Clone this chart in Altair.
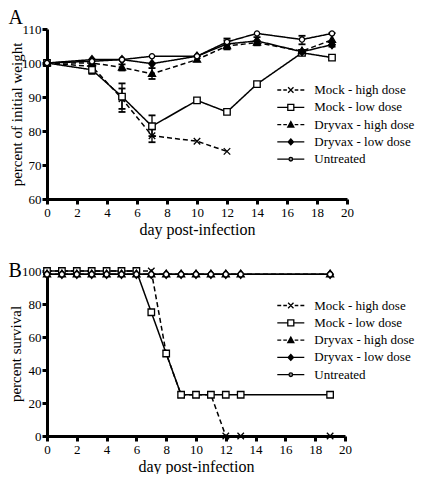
import altair as alt
import pandas as pd

series = ["Mock - high dose", "Mock - low dose", "Dryvax - high dose",
          "Dryvax - low dose", "Untreated"]

# ---- Panel A: weight ----
days_a = [0, 3, 5, 7, 10, 12, 14, 17, 19]
weight_mock_high = [100, 99, 89.5, 78.6, 77, 74]
weight_mock_low = [100, 98, 90.1, 81.4, 89, 85.6, 93.8, 103, 101.6]
weight_dry_high = [100, 100, 98.7, 96.8, 101, 105, 106, 103.5, 106.8]
weight_dry_low = [100, 101, 101, 99.8, 102, 105.6, 106.5, 103.3, 105.4]
weight_untreated = [100, 100.5, 101, 102, 102, 106.2, 108.7, 106.9, 108.7]

err_series = ["Mock - high dose", "Mock - high dose", "Mock - low dose",
              "Mock - low dose", "Mock - low dose", "Dryvax - high dose",
              "Dryvax - high dose", "Dryvax - high dose", "Dryvax - low dose",
              "Dryvax - low dose", "Dryvax - high dose", "Untreated"]
err_day = [5, 7, 3, 5, 7, 5, 7, 12, 12, 14, 19, 17]
err_low = [85.6, 76.7, 96.8, 86.5, 78.5, 97.8, 95.3, 104.0, 104.6, 105.2, 104.8, 105.5]
err_high = [92.5, 80.5, 99.2, 94.0, 84.6, 99.6, 98.5, 106.6, 107.2, 107.6, 108.8, 108.0]

# ---- Panel B: survival ----
days_b = [0, 1, 2, 3, 4, 5, 6, 7, 8, 9, 10, 11, 12, 13, 19]
surv_mock_high = [100, 100, 100, 100, 100, 100, 100, 100, 50, 25, 25, 25, 0, 0, 0]
surv_mock_low = [100, 100, 100, 100, 100, 100, 100, 75, 50, 25, 25, 25, 25, 25, 25]
surv_dry_high = [98, 98, 98, 98, 98, 98, 98, 98, 98, 98, 98, 98, 98, 98, 98]
surv_dry_low = [98, 98, 98, 98, 98, 98, 98, 98, 98, 98, 98, 98, 98, 98, 98]
surv_untreated = [98, 98, 98, 98, 98, 98, 98, 98, 98, 98, 98, 98, 98, 98, 98]

FONT = "Liberation Serif"

marker_paths = ["M-1,-1L1,1M-1,1L1,-1",
                "M-1,-1L1,-1L1,1L-1,1Z",
                "M0,-1.2L1.1,0.8L-1.1,0.8Z",
                "M0,-1.25L1,0L0,1.25L-1,0Z",
                "M-0.8,0A0.8,0.8 0 1,0 0.8,0A0.8,0.8 0 1,0 -0.8,0Z"]
marker_fills = ["white", "white", "black", "black", "white"]
dash_patterns = [[5, 3], [1, 0], [5, 3], [1, 0], [1, 0]]
CAP_PATH = "M-1,0L1,0"

DASH_L = "M-4.5,0L-3.2,0M-2.5,0L-1.3,0"
DASH_R = "M1.3,0L2.5,0M3.2,0L4.5,0"
legend_paths = [
    DASH_L + DASH_R + "M-0.9,-0.9L0.9,0.9M-0.9,0.9L0.9,-0.9",
    "M-4.5,0L-1,0M1,0L4.5,0M-1,-1L1,-1L1,1L-1,1Z",
    DASH_L + DASH_R + "M0,-1L1,0.8L-1,0.8Z",
    "M-4.5,0L4.5,0M0,-1L0.9,0L0,1L-0.9,0Z",
    "M-4.5,0L-0.6,0M0.6,0L4.5,0M-0.6,0A0.6,0.6 0 1,0 0.6,0A0.6,0.6 0 1,0 -0.6,0Z",
]
legend_fills = ["white", "white", "black", "black", "#999999"]
legend_strokes = ["black", "black", "black", "black", "black"]


def long_df(days, value_lists):
    rows = []
    for s, vals in zip(series, value_lists):
        for d, v in zip(days, vals):
            rows.append({"series": s, "day": d, "value": v})
    return pd.DataFrame(rows)


df_a = long_df(days_a, [weight_mock_high, weight_mock_low, weight_dry_high,
                        weight_dry_low, weight_untreated])
df_b = long_df(days_b, [surv_mock_high, surv_mock_low, surv_dry_high,
                        surv_dry_low, surv_untreated])
df_err = pd.DataFrame({"series": err_series, "day": err_day,
                       "lo": err_low, "hi": err_high})


def axis_common(**kw):
    base = dict(domainColor="black", domainWidth=3, tickColor="black",
                tickWidth=3, tickSize=5, labelFont=FONT, labelColor="black",
                titleFont=FONT, titleColor="black", titleFontWeight="normal",
                titleFontSize=16, grid=False, labelFlush=False,
                labelOverlap=False)
    base.update(kw)
    return alt.Axis(**base)


def panel(df, y_domain, y_ticks, y_title, width, height, letter, letter_dx,
          letter_dy, title_x, leg_x, leg_y, errors=None):
    xax = axis_common(values=list(range(0, 21, 2)), title="day post-infection",
                      labelFontSize=13, labelPadding=2, titlePadding=2)
    yax = axis_common(values=y_ticks, title=y_title, labelFontSize=13,
                      labelPadding=1, titleX=title_x, titleY=height / 2,
                      titleAlign="center", titleAngle=270,
                      titleBaseline="bottom", titleFontSize=15)
    xsc = alt.Scale(domain=[0, 20], nice=False, zero=False)
    ysc = alt.Scale(domain=y_domain, nice=False, zero=False)
    x = alt.X("day:Q", scale=xsc, axis=xax)
    y = alt.Y("value:Q", scale=ysc, axis=yax)
    base = alt.Chart(df)
    lines = base.mark_line(color="black", strokeWidth=1.5).encode(
        x=x, y=y, detail="series:N",
        strokeDash=alt.StrokeDash("series:N",
                                  scale=alt.Scale(domain=series, range=dash_patterns),
                                  legend=None))
    layers = [lines]
    if errors is not None:
        eb = alt.Chart(errors)
        layers.append(eb.mark_rule(color="black", strokeWidth=1.3).encode(
            x=x, y=alt.Y("lo:Q", scale=ysc, axis=yax), y2="hi:Q"))
        for fld in ["lo", "hi"]:
            layers.append(eb.mark_point(shape=CAP_PATH, size=49, stroke="black",
                                        strokeWidth=1.8, opacity=1,
                                        filled=False).encode(
                x=x, y=alt.Y(f"{fld}:Q", scale=ysc, axis=yax)))
    points = base.mark_point(filled=True, size=42, stroke="black",
                             strokeWidth=1.3, opacity=1).encode(
        x=x, y=y,
        shape=alt.Shape("series:N", scale=alt.Scale(domain=series, range=marker_paths),
                        legend=None),
        fill=alt.Fill("series:N", scale=alt.Scale(domain=series, range=marker_fills),
                      legend=None))
    layers.append(points)
    leg = alt.Legend(title=None, orient="none", legendX=leg_x, legendY=leg_y,
                     symbolSize=36, symbolStrokeWidth=1.3,
                     symbolStrokeColor="black", symbolOpacity=1,
                     labelFont=FONT, labelFontSize=13, labelColor="black",
                     labelOffset=17, rowPadding=3.3, padding=0)
    legend_layer = base.transform_filter("false").mark_point(
        filled=True, size=36, strokeWidth=1.3, opacity=1).encode(
        x=x, y=y,
        shape=alt.Shape("series:N", scale=alt.Scale(domain=series, range=legend_paths),
                        legend=leg),
        fill=alt.Fill("series:N", scale=alt.Scale(domain=series, range=legend_fills),
                      legend=leg),
        stroke=alt.Stroke("series:N", scale=alt.Scale(domain=series, range=legend_strokes),
                          legend=leg))
    layers.append(legend_layer)
    letter_layer = alt.Chart(pd.DataFrame({"letter": [letter]})).mark_text(
        align="left", baseline="alphabetic", fontSize=20, font=FONT,
        color="black").encode(text="letter:N", x=alt.value(letter_dx),
                              y=alt.value(letter_dy))
    layers.append(letter_layer)
    return alt.layer(*layers).resolve_scale(
        shape="independent", fill="independent", stroke="independent").properties(
        width=width, height=height)


chart_a = panel(df_a, [60, 110], [60, 70, 80, 90, 100, 110],
                "percent of initial weight", 300, 170, "A", -38.5, -5, -23,
                237.3, 54.5, errors=df_err)
chart_b = panel(df_b, [0, 100], [0, 20, 40, 60, 80, 100],
                "percent survival", 298, 165, "B", -38.5, 6, -23.5,
                237.3, 28)

chart = alt.vconcat(chart_a, chart_b, spacing=24).properties(
    padding={"left": 0, "top": 0, "right": 0, "bottom": 0}
).configure_view(stroke=None)

chart.save("out.html", embed_options={"renderer": "svg", "actions": False})
